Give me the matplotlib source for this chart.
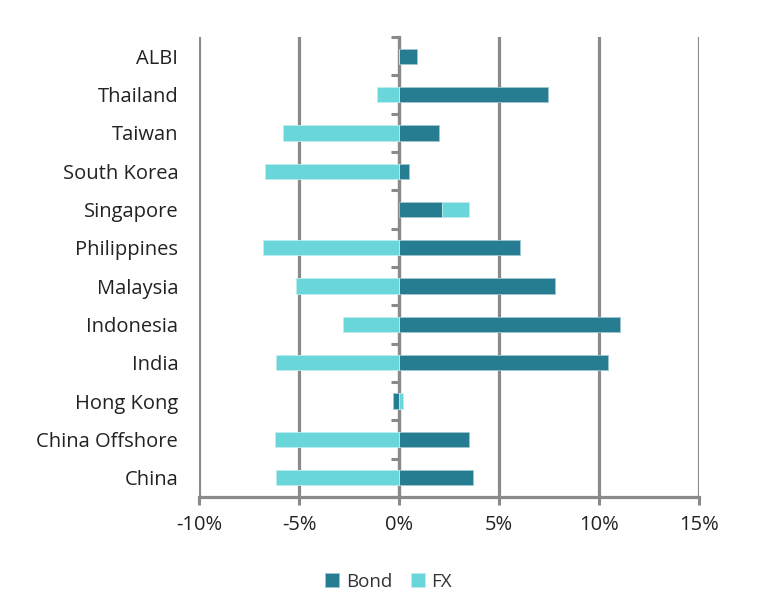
import numpy as np
import matplotlib.pyplot as plt

# Dados (em %), de baixo para cima
paises = ['China', 'China Offshore', 'Hong Kong', 'India', 'Indonesia', 'Malaysia',
          'Philippines', 'Singapore', 'South Korea', 'Taiwan', 'Thailand', 'ALBI']
bond = [3.67, 3.47, -0.3, 10.44, 11.05, 7.79, 6.04, 2.15, 0.52, 2.0, 7.44, 0.92]
fx = [-6.17, -6.22, 0.2, -6.17, -2.80, -5.14, -6.78, 1.35, -6.68, -5.79, -1.09, 0.0]

COR_BOND = '#267d92'
COR_FX = '#69d6da'
COR_GRADE = '#8a8a8a'

plt.rcParams['font.family'] = ['Open Sans', 'DejaVu Sans']
fig = plt.figure(figsize=(7.58, 6.12), dpi=100)
ax = fig.add_axes([0.2625, 0.188, 0.66, 0.7515])

y = np.arange(len(paises))
bond = np.array(bond)
fx = np.array(fx)
# empilha FX sobre o Bond quando tem o mesmo sinal
base_fx = np.where(np.sign(fx) == np.sign(bond), bond, 0.0)

ax.barh(y, bond, height=0.4, color=COR_BOND, edgecolor='#9fc7d1', linewidth=0.6, label='Bond', zorder=3)
ax.barh(y, fx, left=base_fx, height=0.4, color=COR_FX, edgecolor='#bdeef0', linewidth=0.6, label='FX', zorder=3)

ax.set_xlim(-10, 15)
ax.set_ylim(-0.5, len(paises) - 0.5)
ax.set_xticks([-10, -5, 0, 5, 10, 15])
ax.set_xticklabels(['-10%', '-5%', '0%', '5%', '10%', '15%'])
ax.set_yticks(y)
ax.set_yticklabels(paises)
ax.tick_params(axis='y', length=0, pad=15, labelsize=14.5, labelcolor='#222222')
ax.tick_params(axis='x', length=6, width=2.2, color=COR_GRADE, pad=7, labelsize=14.5, labelcolor='#222222')

ax.grid(axis='x', color=COR_GRADE, linewidth=2.3, zorder=1)
for s in ['left', 'right', 'top']:
    ax.spines[s].set_visible(False)
ax.spines['bottom'].set_color(COR_GRADE)
ax.spines['bottom'].set_linewidth(2.3)

# eixo vertical em x=0 com marcas entre as categorias
eixo0 = ax.secondary_yaxis(0.4)
eixo0.set_yticks(np.arange(-0.5, len(paises), 1.0))
eixo0.set_yticklabels([])
eixo0.tick_params(length=6, width=2.2, color=COR_GRADE)
eixo0.spines['left'].set_color(COR_GRADE)
eixo0.spines['left'].set_linewidth(2.3)

leg = fig.legend(loc='lower center', bbox_to_anchor=(0.5125, 0.007), ncol=2, frameon=False,
                 fontsize=13.5, handlelength=0.75, handleheight=0.75, handletextpad=0.35,
                 columnspacing=1.0)
for t in leg.get_texts():
    t.set_color('#333333')

plt.savefig('out.png', dpi=100)
